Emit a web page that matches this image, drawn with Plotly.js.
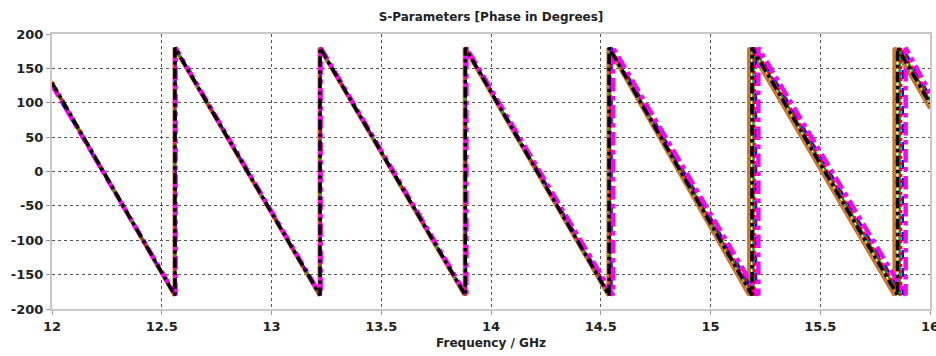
<!DOCTYPE html>
<html>
<head>
<meta charset="utf-8">
<script src="https://cdn.plot.ly/plotly-3.0.1.min.js"></script>
<style>html,body{margin:0;padding:0;background:#fff;}#chart{width:936px;height:356px;}</style>
</head>
<body>
<div id="chart"></div>
<script>
// ---- Data (phase in degrees vs frequency in GHz) ----
const freqStart = 12;
const freqEnd = 16;
const seriesNames = ['S1,1', 'S2,2', 'S2,1', 'S1,2', 'S3,1', 'S3,3', 'S1,3'];
// frequencies where each trace wraps from -180 to +180
const wrapsBrown   = [12.558, 13.219, 13.880, 14.535, 15.176, 15.838];
const wrapsOrange  = [12.559, 13.220, 13.882, 14.537, 15.182, 15.845];
const wrapsGreen   = [12.561, 13.222, 13.884, 14.542, 15.196, 15.862];
const wrapsBlue    = [12.562, 13.223, 13.886, 14.549, 15.207, 15.876];
const wrapsRed     = [12.561, 13.222, 13.885, 14.545, 15.201, 15.868];
const wrapsMagenta = [12.563, 13.224, 13.888, 14.556, 15.218, 15.889];
const wrapsBlack   = [12.560, 13.221, 13.883, 14.538, 15.189, 15.852];
// phase at 12 GHz and at 16 GHz
const startPhases = [128, 131, 127, 124, 129, 126, 129];
const endPhases   = [92, 96, 103, 109, 106, 114, 99];
const xTicks = [12, 12.5, 13, 13.5, 14, 14.5, 15, 15.5, 16];
const yTicks = [-200, -150, -100, -50, 0, 50, 100, 150, 200];

// ---- Styles ----
const allWraps = [wrapsBrown, wrapsOrange, wrapsGreen, wrapsBlue, wrapsRed, wrapsMagenta, wrapsBlack];
const styles = [
  {color: '#b8762f', width: 4,   dash: 'solid'},
  {color: '#ff8000', width: 3.5, dash: 'dot'},
  {color: '#1a9a1a', width: 2.5, dash: 'solid'},
  {color: '#0000ff', width: 2.5, dash: 'dash'},
  {color: '#ff0000', width: 2.5, dash: 'dot'},
  {color: '#ff00ff', width: 4.5, dash: 'dashdot'},
  {color: '#000000', width: 3.5, dash: 'dashdot'}
];

function buildTrace(i) {
  const x = [freqStart], y = [startPhases[i]];
  allWraps[i].forEach(w => { x.push(w, w); y.push(-180, 180); });
  x.push(freqEnd); y.push(endPhases[i]);
  return {x, y, type: 'scatter', mode: 'lines', name: seriesNames[i],
          line: styles[i], hoverinfo: 'x+y'};
}
const traces = allWraps.map((_, i) => buildTrace(i));

const fontFam = '"DejaVu Sans", Verdana, sans-serif';
const layout = {
  width: 936, height: 356,
  margin: {l: 52, r: 6, t: 34, b: 47},
  paper_bgcolor: '#ffffff', plot_bgcolor: '#ffffff',
  showlegend: false,
  font: {family: fontFam, color: '#222', size: 12},
  title: {text: 'S-Parameters [Phase in Degrees]', x: 0.5, xref: 'paper', xanchor: 'center',
          y: 1 - 17/356, yref: 'container', yanchor: 'middle',
          font: {family: fontFam, size: 12, weight: 'bold', color: '#222'}},
  xaxis: {
    range: [freqStart, freqEnd], tickvals: xTicks, ticktext: xTicks.map(String),
    ticklabeloverflow: 'allow',
    showgrid: true, gridcolor: '#555', griddash: 'dot', gridwidth: 1,
    zeroline: false, showline: true, linecolor: '#c8c8c8', linewidth: 2, mirror: true,
    ticks: 'outside', ticklen: 4, tickcolor: '#999',
    tickfont: {family: fontFam, size: 13, weight: 'bold', color: '#222'},
    title: {text: 'Frequency / GHz', standoff: 6,
            font: {family: fontFam, size: 12, weight: 'bold', color: '#222'}}
  },
  yaxis: {
    range: [-200, 200], tickvals: yTicks, ticktext: yTicks.map(String),
    showgrid: true, gridcolor: '#555', griddash: 'dot', gridwidth: 1,
    zeroline: false, showline: true, linecolor: '#c8c8c8', linewidth: 2, mirror: true,
    ticks: 'outside', ticklen: 4, tickcolor: '#999',
    tickfont: {family: fontFam, size: 13, weight: 'bold', color: '#222'}
  }
};
Plotly.newPlot('chart', traces, layout, {staticPlot: true, displayModeBar: false});
</script>
</body>
</html>
